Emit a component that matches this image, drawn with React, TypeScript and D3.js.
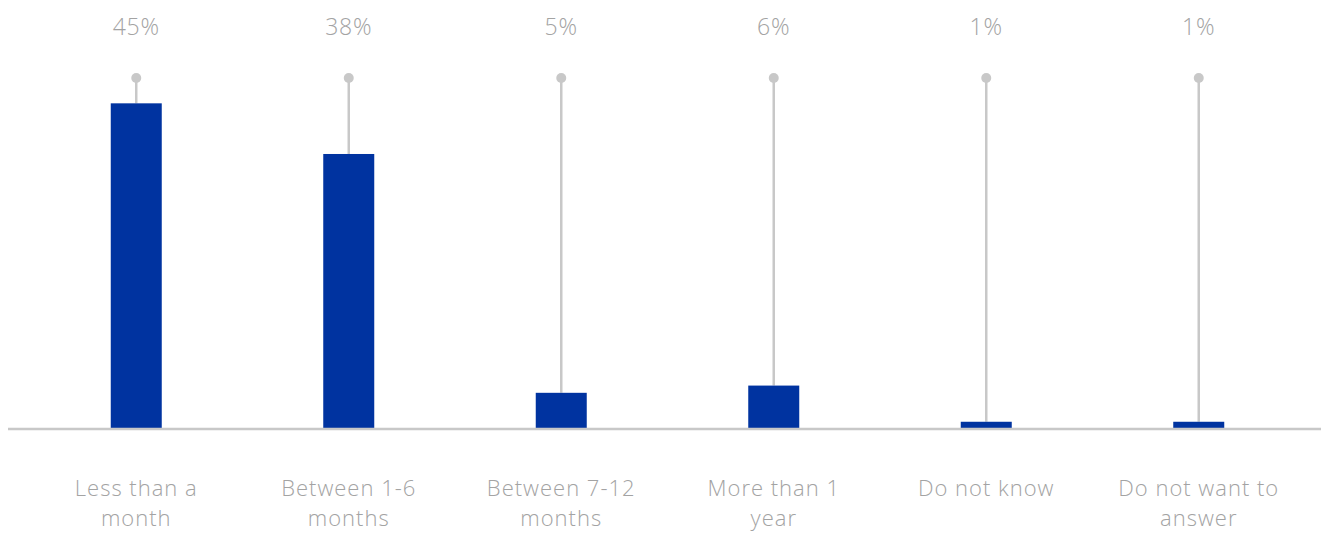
import React from "react";
import * as d3 from "d3";

const categories = [
  ["Less than a", "month"],
  ["Between 1-6", "months"],
  ["Between 7-12", "months"],
  ["More than 1", "year"],
  ["Do not know"],
  ["Do not want to", "answer"],
];
const shares = [45, 38, 5, 6, 1, 1];
const shareLabels = ["45%", "38%", "5%", "6%", "1%", "1%"];
const pinTops = [48.5, 48.5, 48.5, 48.5, 48.5, 48.5];

const W = 1321;
const H = 533;
const BAR = "#0033A0";
const GREY = "#c8c8c8";
const TEXT = "#a3a3a3";
const FONT = "'Open Sans', sans-serif";

export default function App() {
  const keys = categories.map((c) => c.join(" "));
  const x = d3.scaleBand<string>().domain(keys).range([30, 1305]).paddingInner(0).paddingOuter(0);
  const y = d3.scaleLinear().domain([0, 48.5]).range([429, 78]);
  const barW = 51;

  return (
    <svg width={W} height={H} style={{ position: "absolute", left: 0, top: 0, background: "#fff" }}>
      {keys.map((k, i) => {
        const cx = (x(k) ?? 0) + x.bandwidth() / 2;
        return (
          <g key={k}>
            <line x1={cx} x2={cx} y1={y(pinTops[i])} y2={y(shares[i])} stroke={GREY} strokeWidth={2.5} />
            <circle cx={cx} cy={y(pinTops[i])} r={5} fill={GREY} />
            <rect x={cx - barW / 2} y={y(shares[i])} width={barW} height={y(0) - y(shares[i])} fill={BAR} />
            <text x={cx} y={27} dy="0.35em" textAnchor="middle" fontFamily={FONT} fontWeight={300} fontSize={23} letterSpacing={0.8} fill={TEXT}>
              {shareLabels[i]}
            </text>
            {categories[i].map((line, j) => (
              <text key={j} x={cx} y={488 + j * 30} dy="0.35em" textAnchor="middle" fontFamily={FONT} fontWeight={300} fontSize={22} letterSpacing={1} fill={TEXT}>
                {line}
              </text>
            ))}
          </g>
        );
      })}
      <line x1={8} x2={W} y1={y(0)} y2={y(0)} stroke={GREY} strokeWidth={2.5} />
    </svg>
  );
}
